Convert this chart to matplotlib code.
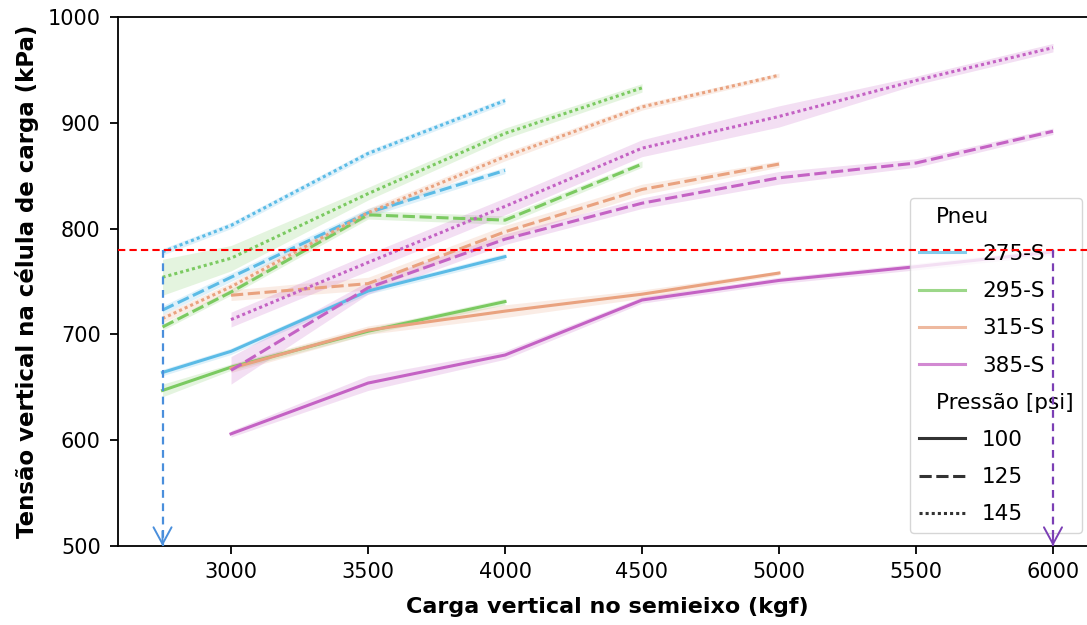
import numpy as np
import matplotlib
matplotlib.use("Agg")
import matplotlib.pyplot as plt
from matplotlib.lines import Line2D

nan = np.nan
carga = [2750, 3000, 3500, 4000, 4500, 5000, 5500, 6000]
pneus = ["275-S", "295-S", "315-S", "385-S"]
pressoes = [100, 125, 145]
cores = ["#5bbbe6", "#7bca61", "#e9a27f", "#c462c4"]

tensao_275 = {100: [664, 684, 741, 773.5, nan, nan, nan, nan],
              125: [723, 754, 815, 855, nan, nan, nan, nan],
              145: [778, 803, 871, 921, nan, nan, nan, nan]}
tensao_295 = {100: [647, 669, 703, 731, nan, nan, nan, nan],
              125: [707, 740, 813, 808, 861, nan, nan, nan],
              145: [754, 772, 833, 890, 933, nan, nan, nan]}
tensao_315 = {100: [nan, 668, 704, 722, 738, 758, nan, nan],
              125: [nan, 737, 748, 797, 837, 861, nan, nan],
              145: [715, 745, 815, 868, 915, 945, nan, nan]}
tensao_385 = {100: [nan, 606, 654, 680.5, 732.5, 751, 764, 778],
              125: [nan, 666, 744, 790, 824, 848, 862, 892],
              145: [nan, 714, 768, 821, 876, 906, 940, 971]}

# half-width of the confidence band
ic_275 = {100: [3, 3, 3, 3, nan, nan, nan, nan],
          125: [4, 4, 4, 3, nan, nan, nan, nan],
          145: [3, 3, 3, 3, nan, nan, nan, nan]}
ic_295 = {100: [6, 3, 3, 3, nan, nan, nan, nan],
          125: [3, 3, 4, 4, 3, nan, nan, nan],
          145: [17, 12, 6, 5, 4, nan, nan, nan]}
ic_315 = {100: [nan, 4, 4, 6, 4, 2, nan, nan],
          125: [nan, 5, 6, 6, 5, 3, nan, nan],
          145: [4, 4, 4, 4, 3, 2, nan, nan]}
ic_385 = {100: [nan, 3, 7, 4, 3, 3, 3, 3],
          125: [nan, 13, 6, 5, 5, 6, 4, 3],
          145: [nan, 7, 8, 8, 8, 10, 4, 4]}

limite_tensao = 780
carga_min, carga_max = 2750, 6000

tensoes = [tensao_275, tensao_295, tensao_315, tensao_385]
ics = [ic_275, ic_295, ic_315, ic_385]
estilos = {100: "-", 125: (0, (4, 1.5)), 145: (0, (1, 1))}

W, H = 1087, 625
fig = plt.figure(figsize=(W / 100, H / 100), dpi=100)
ax = fig.add_axes([118 / W, 79 / H, (1097.5 - 118) / W, 529 / H])

x = np.array(carga, dtype=float)
lw = 2.2
for cor, tens, ic in zip(cores, tensoes, ics):
    for p in pressoes:
        y = np.array(tens[p], dtype=float)
        e = np.array(ic[p], dtype=float)
        m = ~np.isnan(y)
        ax.fill_between(x[m], y[m] - e[m], y[m] + e[m], color=cor, alpha=0.2, lw=0)
        ax.plot(x[m], y[m], color=cor, lw=lw, ls=estilos[p])

ax.set_xlim(2587.5, 6162.5)
ax.set_ylim(500, 1000)
ax.set_xticks([3000, 3500, 4000, 4500, 5000, 5500, 6000])
ax.set_yticks([500, 600, 700, 800, 900, 1000])
ax.tick_params(labelsize=15, length=6, width=1.3)
ax.tick_params(axis="x", pad=5.5)
ax.tick_params(axis="y", pad=6.5)
for s in ax.spines.values():
    s.set_linewidth(1.3)

ax.set_xlabel("Carga vertical no semieixo (kgf)", fontsize=16, fontweight="bold", labelpad=11)
ax.set_ylabel("Tensão vertical na célula de carga (kPa)", fontsize=16.5, fontweight="bold", labelpad=6)

# legend
headers = ("Pneu", "Pressão [psi]")
handles, labels = [], []
handles.append(Line2D([], [], alpha=0)); labels.append(headers[0])
for cor, pn in zip(cores, pneus):
    handles.append(Line2D([], [], color=cor, lw=lw, alpha=0.75)); labels.append(pn)
handles.append(Line2D([], [], alpha=0)); labels.append(headers[1])
for p in pressoes:
    handles.append(Line2D([], [], color="#333333", lw=lw, ls=estilos[p])); labels.append(str(p))
leg = ax.legend(handles, labels, loc="upper left", bbox_to_anchor=(910 / W, 1 - 198 / H),
                bbox_transform=fig.transFigure, borderaxespad=0, fontsize=15.5, handlelength=2.15,
                handletextpad=0.8, labelspacing=0.8, borderpad=0.4, framealpha=0.8,
                edgecolor="#cccccc", fancybox=True)
leg.set_zorder(5)
for col in leg._legend_handle_box.get_children():
    for item in col.get_children():
        da, ta = item.get_children()
        if ta._text.get_text() in headers:
            da.width = 0

# annotation lines
ax.axhline(limite_tensao, color="red", lw=1.5, ls=(0, (3.5, 2)), zorder=7)
azul, roxo = "#4a8fdc", "#7b3fb5"
for xv, c in ((carga_min, azul), (carga_max, roxo)):
    ax.plot([xv, xv], [limite_tensao, 500], color=c, lw=1.6, ls=(0, (3.5, 2.5)), zorder=7, clip_on=False)
    ax.annotate("", xy=(xv, 500), xytext=(xv, 514),
                arrowprops=dict(arrowstyle="->,head_length=1.2,head_width=0.65", color=c, lw=1.4,
                                shrinkA=0, shrinkB=0), zorder=7)

fig.savefig("out.png", dpi=100)
